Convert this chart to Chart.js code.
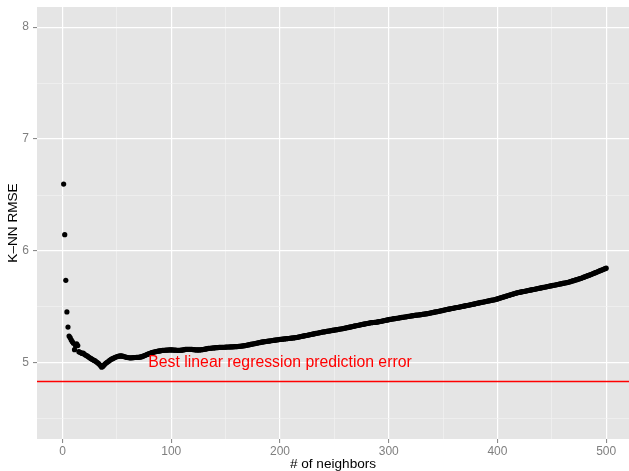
<!DOCTYPE html>
<html>
<head>
<meta charset="utf-8">
<script src="https://cdn.jsdelivr.net/npm/chart.js@4.4.0/dist/chart.umd.min.js"></script>
<style>
  body { margin: 0; background: #ffffff; }
  #wrap { width: 629px; height: 471px; }
</style>
</head>
<body>
<div id="wrap"><canvas id="knnChart" width="629" height="471"></canvas></div>
<script>
// RMSE of k-NN for k = 1..500
const rmse = [
    6.598, 6.146, 5.738, 5.455, 5.320, 5.240, 5.225, 5.205, 5.190, 5.175,
    5.118, 5.150, 5.170, 5.155, 5.100, 5.095, 5.090, 5.085, 5.088, 5.078,
    5.070, 5.065, 5.060, 5.052, 5.045, 5.040, 5.033, 5.028, 5.022, 5.018,
    5.010, 5.003, 4.995, 4.985, 4.975, 4.962, 4.968, 4.980, 4.990, 4.998,
    5.005, 5.012, 5.020, 5.027, 5.033, 5.038, 5.042, 5.048, 5.052, 5.055,
    5.058, 5.060, 5.062, 5.062, 5.060, 5.058, 5.055, 5.052, 5.050, 5.048,
    5.046, 5.045, 5.045, 5.046, 5.047, 5.048, 5.048, 5.049, 5.050, 5.050,
    5.051, 5.053, 5.056, 5.060, 5.064, 5.068, 5.072, 5.076, 5.080, 5.084,
    5.088, 5.091, 5.094, 5.097, 5.099, 5.101, 5.103, 5.105, 5.107, 5.108,
    5.110, 5.111, 5.112, 5.113, 5.114, 5.115, 5.115, 5.116, 5.116, 5.116,
    5.116, 5.115, 5.115, 5.114, 5.113, 5.112, 5.112, 5.113, 5.114, 5.115,
    5.116, 5.118, 5.120, 5.121, 5.122, 5.122, 5.122, 5.121, 5.120, 5.119,
    5.118, 5.117, 5.116, 5.116, 5.116, 5.116, 5.117, 5.118, 5.119, 5.121,
    5.123, 5.125, 5.127, 5.129, 5.130, 5.131, 5.132, 5.133, 5.134, 5.135,
    5.136, 5.137, 5.137, 5.138, 5.138, 5.139, 5.139, 5.140, 5.140, 5.141,
    5.141, 5.142, 5.142, 5.143, 5.143, 5.144, 5.144, 5.145, 5.145, 5.146,
    5.146, 5.147, 5.148, 5.149, 5.151, 5.152, 5.154, 5.155, 5.157, 5.159,
    5.161, 5.163, 5.165, 5.167, 5.169, 5.171, 5.173, 5.175, 5.177, 5.179,
    5.181, 5.183, 5.185, 5.187, 5.188, 5.190, 5.191, 5.193, 5.194, 5.195,
    5.197, 5.198, 5.200, 5.201, 5.203, 5.204, 5.205, 5.207, 5.208, 5.210,
    5.211, 5.212, 5.213, 5.214, 5.215, 5.216, 5.217, 5.218, 5.220, 5.221,
    5.222, 5.223, 5.224, 5.225, 5.227, 5.229, 5.231, 5.233, 5.235, 5.237,
    5.239, 5.241, 5.243, 5.245, 5.247, 5.249, 5.251, 5.253, 5.255, 5.257,
    5.259, 5.261, 5.263, 5.265, 5.267, 5.269, 5.271, 5.273, 5.275, 5.277,
    5.278, 5.280, 5.282, 5.283, 5.285, 5.287, 5.288, 5.290, 5.292, 5.293,
    5.295, 5.297, 5.298, 5.300, 5.302, 5.303, 5.305, 5.307, 5.309, 5.311,
    5.313, 5.315, 5.317, 5.319, 5.321, 5.323, 5.325, 5.328, 5.330, 5.332,
    5.334, 5.336, 5.338, 5.340, 5.342, 5.344, 5.346, 5.348, 5.350, 5.352,
    5.354, 5.356, 5.358, 5.359, 5.360, 5.361, 5.362, 5.363, 5.364, 5.366,
    5.368, 5.370, 5.372, 5.374, 5.376, 5.378, 5.380, 5.382, 5.384, 5.386,
    5.388, 5.390, 5.392, 5.393, 5.395, 5.396, 5.398, 5.399, 5.401, 5.403,
    5.404, 5.406, 5.407, 5.409, 5.410, 5.412, 5.414, 5.415, 5.417, 5.419,
    5.420, 5.422, 5.423, 5.424, 5.426, 5.427, 5.428, 5.429, 5.431, 5.432,
    5.434, 5.435, 5.437, 5.438, 5.440, 5.441, 5.443, 5.445, 5.447, 5.449,
    5.451, 5.453, 5.455, 5.457, 5.459, 5.461, 5.463, 5.465, 5.467, 5.470,
    5.472, 5.474, 5.476, 5.478, 5.480, 5.482, 5.484, 5.486, 5.488, 5.490,
    5.492, 5.494, 5.495, 5.497, 5.499, 5.501, 5.503, 5.505, 5.507, 5.509,
    5.511, 5.513, 5.515, 5.517, 5.519, 5.521, 5.523, 5.525, 5.527, 5.530,
    5.532, 5.534, 5.536, 5.538, 5.540, 5.542, 5.544, 5.546, 5.548, 5.550,
    5.552, 5.554, 5.556, 5.558, 5.560, 5.562, 5.564, 5.566, 5.569, 5.572,
    5.575, 5.578, 5.581, 5.584, 5.587, 5.590, 5.593, 5.596, 5.599, 5.602,
    5.605, 5.608, 5.611, 5.614, 5.617, 5.620, 5.623, 5.626, 5.628, 5.630,
    5.632, 5.634, 5.636, 5.638, 5.640, 5.642, 5.644, 5.646, 5.648, 5.650,
    5.652, 5.654, 5.656, 5.658, 5.660, 5.662, 5.664, 5.666, 5.668, 5.670,
    5.672, 5.674, 5.676, 5.678, 5.680, 5.682, 5.684, 5.686, 5.688, 5.690,
    5.692, 5.694, 5.696, 5.698, 5.700, 5.702, 5.704, 5.706, 5.708, 5.710,
    5.712, 5.714, 5.716, 5.718, 5.720, 5.723, 5.726, 5.729, 5.732, 5.735,
    5.738, 5.741, 5.744, 5.747, 5.750, 5.753, 5.756, 5.760, 5.764, 5.768,
    5.771, 5.775, 5.779, 5.782, 5.786, 5.790, 5.794, 5.798, 5.802, 5.806,
    5.810, 5.814, 5.818, 5.822, 5.826, 5.830, 5.834, 5.838, 5.842, 5.846
];
const neighbors = rmse.map((v, i) => i + 1);

const xLabels = [0, 100, 200, 300, 400, 500];
const yLabels = [5, 6, 7, 8];
const lmError = 4.833;
const lmText = 'Best linear regression prediction error';
const lmTextAt = { x: 200, y: 5.0 };

const xRange = [-23.5, 521];
const yRange = [4.32, 8.18];

const panelBg = {
    id: 'panelBg',
    beforeDraw(chart) {
        const a = chart.chartArea;
        const ctx = chart.ctx;
        ctx.save();
        ctx.fillStyle = '#e5e5e5';
        ctx.fillRect(a.left, a.top, a.right - a.left, a.bottom - a.top);
        ctx.restore();
    }
};

const lmLabel = {
    id: 'lmLabel',
    afterDatasetsDraw(chart) {
        const ctx = chart.ctx;
        const x = chart.scales.x.getPixelForValue(lmTextAt.x);
        const y = chart.scales.y.getPixelForValue(lmTextAt.y);
        ctx.save();
        ctx.font = '15.8px "Liberation Sans", Arial, sans-serif';
        ctx.fillStyle = '#ff0000';
        ctx.textAlign = 'center';
        ctx.textBaseline = 'middle';
        ctx.fillText(lmText, x, y);
        ctx.restore();
    }
};

const isMajor = (v, list) => list.some(t => Math.abs(t - v) < 1e-6);

// fixed axis sizes, no extra label padding, so the panel sits where it does in the original
function fixSize(s, w, h) {
    if (w) s.width = w;
    if (h) s.height = h;
    s.paddingTop = 0;
    s.paddingBottom = 0;
    s.paddingLeft = 0;
    s.paddingRight = 0;
}

new Chart(document.getElementById('knnChart').getContext('2d'), {
    type: 'scatter',
    data: {
        datasets: [{
            label: 'K-NN RMSE',
            data: neighbors.map((k, i) => ({ x: k, y: rmse[i] })),
            backgroundColor: '#000000',
            borderWidth: 0,
            pointRadius: 2.6,
            pointHoverRadius: 2.6
        }, {
            type: 'line',
            label: 'linear regression',
            data: [{ x: xRange[0], y: lmError }, { x: xRange[1], y: lmError }],
            borderColor: '#ff0000',
            borderWidth: 1.5,
            pointRadius: 0,
            fill: false
        }]
    },
    plugins: [panelBg, lmLabel],
    options: {
        responsive: false,
        animation: false,
        layout: { autoPadding: false, padding: { left: 0, top: 7, right: 0, bottom: 0 } },
        plugins: {
            legend: { display: false },
            tooltip: { enabled: false }
        },
        scales: {
            x: {
                type: 'linear',
                min: xRange[0],
                max: xRange[1],
                afterFit: s => fixSize(s, 0, 32),
                border: { display: false },
                grid: {
                    color: c => isMajor(c.tick.value, xLabels) ? '#ffffff' : '#f2f2f2',
                    lineWidth: c => isMajor(c.tick.value, xLabels) ? 1.2 : 0.7,
                    tickColor: c => isMajor(c.tick.value, xLabels) ? '#7f7f7f' : 'rgba(0,0,0,0)',
                    tickLength: 4,
                    tickWidth: 1
                },
                ticks: {
                    stepSize: 50,
                    includeBounds: false,
                    autoSkip: false,
                    maxRotation: 0,
                    padding: 1,
                    color: '#7f7f7f',
                    font: { family: '"Liberation Sans", Arial, sans-serif', size: 12 },
                    callback: v => isMajor(v, xLabels) ? String(v) : ''
                },
                title: {
                    display: true,
                    text: '# of neighbors',
                    color: '#000000',
                    padding: { top: 0, bottom: -1.5 },
                    font: { family: '"Liberation Sans", Arial, sans-serif', size: 13.6 }
                }
            },
            y: {
                type: 'linear',
                min: yRange[0],
                max: yRange[1],
                afterFit: s => fixSize(s, 37, 0),
                border: { display: false },
                grid: {
                    color: c => isMajor(c.tick.value, yLabels) ? '#ffffff' : '#f2f2f2',
                    lineWidth: c => isMajor(c.tick.value, yLabels) ? 1.2 : 0.7,
                    tickColor: c => isMajor(c.tick.value, yLabels) ? '#7f7f7f' : 'rgba(0,0,0,0)',
                    tickLength: 4,
                    tickWidth: 1
                },
                ticks: {
                    stepSize: 0.5,
                    includeBounds: false,
                    autoSkip: false,
                    padding: 4,
                    color: '#7f7f7f',
                    font: { family: '"Liberation Sans", Arial, sans-serif', size: 12 },
                    callback: v => isMajor(v, yLabels) ? String(v) : ''
                },
                title: {
                    display: true,
                    text: 'K–NN RMSE',
                    color: '#000000',
                    padding: { top: 5, bottom: 0 },
                    font: { family: '"Liberation Sans", Arial, sans-serif', size: 13.6 }
                }
            }
        }
    }
});
</script>
</body>
</html>
